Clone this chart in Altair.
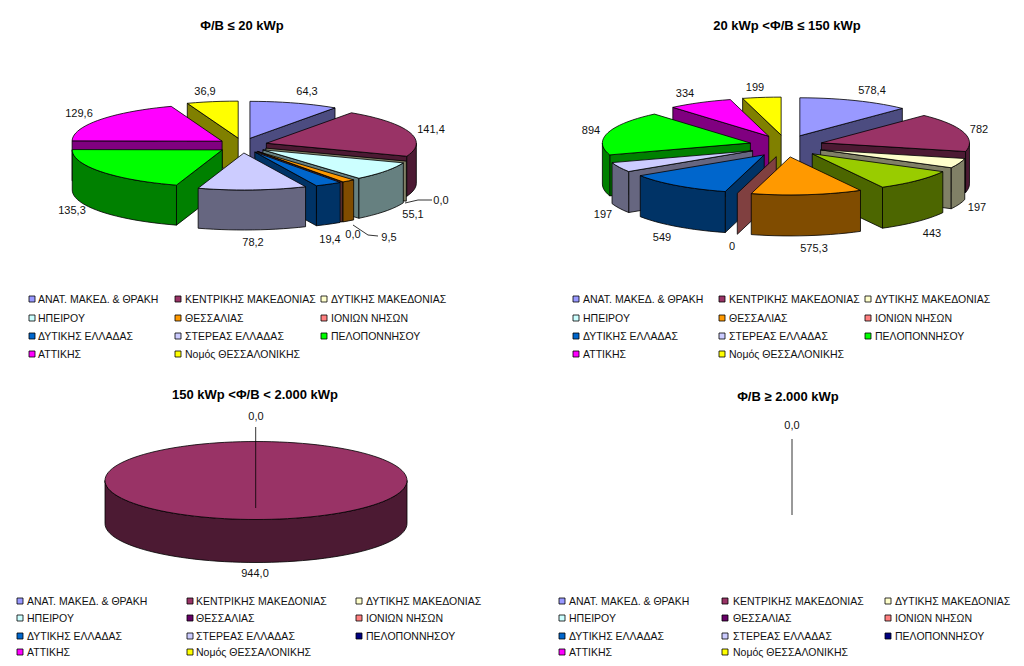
import math
import altair as alt
import pandas as pd

regions = ["ΑΝΑΤ. ΜΑΚΕΔ. & ΘΡΑΚΗ", "ΚΕΝΤΡΙΚΗΣ ΜΑΚΕΔΟΝΙΑΣ", "ΔΥΤΙΚΗΣ ΜΑΚΕΔΟΝΙΑΣ",
           "ΗΠΕΙΡΟΥ", "ΘΕΣΣΑΛΙΑΣ", "ΙΟΝΙΩΝ ΝΗΣΩΝ",
           "ΔΥΤΙΚΗΣ ΕΛΛΑΔΑΣ", "ΣΤΕΡΕΑΣ ΕΛΛΑΔΑΣ", "ΠΕΛΟΠΟΝΝΗΣΟΥ",
           "ΑΤΤΙΚΗΣ", "Νομός ΘΕΣΣΑΛΟΝΙΚΗΣ"]

values_1 = [64.3, 141.4, 0.0, 55.1, 9.5, 0.0, 19.4, 78.2, 135.3, 129.6, 36.9]
values_2 = [578.4, 782, 197, 443, 575.3, 0, 549, 197, 894, 334, 199]
values_3 = [0, 944.0, 0, 0, 0, 0, 0, 0, 0, 0, 0]
values_4 = [0, 0, 0, 0, 0, 0, 0, 0, 0, 0, 0]

labels_1 = ["64,3", "141,4", "0,0", "55,1", "9,5", "0,0", "19,4", "78,2", "135,3", "129,6", "36,9"]
labels_2 = ["578,4", "782", "197", "443", "575,3", "0", "549", "197", "894", "334", "199"]
labels_3 = ["0,0", "944,0"]
labels_4 = ["0,0"]

titles = ["Φ/Β ≤ 20 kWp", "20 kWp <Φ/Β ≤ 150 kWp", "150 kWp <Φ/Β < 2.000 kWp", "Φ/Β ≥ 2.000 kWp"]

colors_1 = ["#9999FF", "#993366", "#FFFFCC", "#CCFFFF", "#FF9900", "#FF8080",
            "#0066CC", "#CCCCFF", "#00FF00", "#FF00FF", "#FFFF00"]
colors_2 = ["#9999FF", "#993366", "#FFFFCC", "#99CC00", "#FF9900", "#FF8080",
            "#0066CC", "#CCCCFF", "#00FF00", "#FF00FF", "#FFFF00"]
legend_colors_2 = ["#9999FF", "#993366", "#FFFFCC", "#CCFFFF", "#FF9900", "#FF8080",
                   "#0066CC", "#CCCCFF", "#00FF00", "#FF00FF", "#FFFF00"]
colors_3 = ["#9999FF", "#993366", "#FFFFCC", "#CCFFFF", "#660066", "#FF8080",
            "#0066CC", "#CCCCFF", "#000080", "#FF00FF", "#FFFF00"]

# layout (screen pixels)
pies = [
    dict(v=values_1, c=colors_1, cx=242.5, cy=145.5, rx=150, ry=37, d=40, ex=25, ey=7.5),
    dict(v=values_2, c=colors_2, cx=786, cy=146, rx=148, ry=38, d=41, ex=37, ey=11),
    dict(v=values_3, c=colors_3, cx=256, cy=480.5, rx=151, ry=39, d=43, ex=0, ey=0),
]
label_pos_1 = [(307, 91), (431, 129), (441, 200), (413, 214), (389, 237), (353, 234),
               (330, 239), (253, 242), (72, 210), (79, 113), (205, 91)]
label_pos_2 = [(872, 90), (979, 129), (977, 207), (932, 233), (814, 248), (732, 246),
               (662, 237), (603, 214), (591, 130), (685, 93), (755, 87)]
label_pos_3 = [(256, 416), (255, 573)]
label_pos_4 = [(792, 425)]
title_pos = [(242, 25), (787, 25), (255, 394), (788, 396)]
leaders = [[(405, 203), (418, 200), (432, 200)],
           [(353, 225), (368, 235), (378, 236)],
           [(255.7, 427), (255.7, 508)],
           [(792, 439), (792, 515)]]
legends = [
    dict(mx=[32, 178, 324], tx=[38, 185, 331], ry=[299, 318, 336, 354], c=colors_1),
    dict(mx=[576, 722, 868], tx=[583, 729, 875], ry=[299, 318, 336, 354], c=legend_colors_2),
    dict(mx=[20, 190, 359], tx=[27, 196, 366], ry=[601, 618, 636, 652], c=colors_3),
    dict(mx=[562, 725, 888], tx=[569, 733, 895], ry=[601, 618, 636, 652], c=colors_3),
]


def darken(h):
    return "#" + "".join("%02X" % round(int(h[i:i + 2], 16) * 0.5) for i in (1, 3, 5))


rows = []
pid = 0


def add_poly(points, fill):
    global pid
    pid += 1
    pts = list(points) + [points[0]]
    for i, (x, y) in enumerate(pts):
        rows.append(dict(poly=pid, seq=i, x=x, y=y, fill=fill))


for p in pies:
    total = sum(p["v"])
    nonzero = sum(1 for v in p["v"] if v > 0)
    slices, a = [], 0.0
    for v, col in zip(p["v"], p["c"]):
        span = 360.0 * v / total
        slices.append((a, a + span, col))
        a += span
    slices.sort(key=lambda s: -math.cos(math.radians((s[0] + s[1]) / 2)))
    for a0, a1, col in slices:
        if nonzero == 1 and a1 - a0 < 1e-6:
            continue
        mid = math.radians((a0 + a1) / 2)
        ax = p["cx"] + p["ex"] * math.sin(mid)
        ay = p["cy"] - p["ey"] * math.cos(mid)

        def pt(deg):
            r = math.radians(deg)
            return (ax + p["rx"] * math.sin(r), ay - p["ry"] * math.cos(r))

        dark = darken(col)
        d = p["d"]
        # cut faces
        if a1 - a0 < 359.9:
            for ang, vis in ((a0, math.sin(math.radians(a0)) < -1e-6),
                             (a1, math.sin(math.radians(a1)) > 1e-6)):
                if vis:
                    ox, oy = pt(ang)
                    add_poly([(ax, ay), (ox, oy), (ox, oy + d), (ax, ay + d)], dark)
        # outer wall (front half only)
        w0, w1 = max(a0, 90.0), min(a1, 270.0)
        if w1 > w0:
            n = max(2, int((w1 - w0) / 3))
            arc = [pt(w0 + (w1 - w0) * i / n) for i in range(n + 1)]
            add_poly(arc + [(x, y + d) for x, y in reversed(arc)], dark)
        # top
        if a1 > a0:
            n = max(2, int((a1 - a0) / 3))
            arc = [pt(a0 + (a1 - a0) * i / n) for i in range(n + 1)]
            add_poly(([(ax, ay)] if a1 - a0 < 359.9 else []) + arc, col)

poly_df = pd.DataFrame(rows)

leader_rows = []
for i, l in enumerate(leaders):
    for j, (x, y) in enumerate(l):
        leader_rows.append(dict(line=i, seq=j, x=x, y=y))
leader_df = pd.DataFrame(leader_rows)

texts = []
for labs, pos in ((labels_1, label_pos_1), (labels_2, label_pos_2),
                  (labels_3, label_pos_3), (labels_4, label_pos_4)):
    for t, (x, y) in zip(labs, pos):
        texts.append(dict(t=t, x=x, y=y))
text_df = pd.DataFrame(texts)
title_df = pd.DataFrame([dict(t=t, x=x, y=y) for t, (x, y) in zip(titles, title_pos)])

leg_marks, leg_text = [], []
for lg in legends:
    for i, (name, col) in enumerate(zip(regions, lg["c"])):
        c, r = i % 3, i // 3
        leg_marks.append(dict(x=lg["mx"][c], y=lg["ry"][r], fill=col))
        leg_text.append(dict(t=name, x=lg["tx"][c], y=lg["ry"][r]))
leg_marks_df = pd.DataFrame(leg_marks)
leg_text_df = pd.DataFrame(leg_text)

X = alt.X("x:Q", axis=None, scale=alt.Scale(domain=[8, 1016], nice=False, zero=False))
Y = alt.Y("y:Q", axis=None, scale=alt.Scale(domain=[658, 8], nice=False, zero=False))
FONT = "Liberation Sans"

polys = alt.Chart(poly_df).mark_line(stroke="black", strokeWidth=0.8, strokeJoin="round", clip=False).encode(
    x=X, y=Y, detail="poly:N", order="seq:Q", fill=alt.Fill("fill:N", scale=None))
lead = alt.Chart(leader_df).mark_line(stroke="black", strokeWidth=0.8).encode(
    x=X, y=Y, detail="line:N", order="seq:Q")
val_text = alt.Chart(text_df).mark_text(font=FONT, fontSize=11, dy=1, color="#111111").encode(x=X, y=Y, text="t:N")
ttl_text = alt.Chart(title_df).mark_text(font=FONT, fontSize=13, dy=1, fontWeight="bold", color="black").encode(
    x=X, y=Y, text="t:N")
leg_sq = alt.Chart(leg_marks_df).mark_point(shape="square", filled=True, size=36, stroke="black",
                                            strokeWidth=0.8, opacity=1).encode(
    x=X, y=Y, fill=alt.Fill("fill:N", scale=None))
leg_tx = alt.Chart(leg_text_df).mark_text(font=FONT, fontSize=10.5, dy=1, align="left", color="#111111").encode(
    x=X, y=Y, text="t:N")

chart = (alt.layer(polys, lead, val_text, ttl_text, leg_sq, leg_tx)
         .properties(width=1008, height=650, padding=0, background="white")
         .configure_view(stroke=None))
chart.save("out.html", embed_options={"renderer": "svg", "actions": False})
